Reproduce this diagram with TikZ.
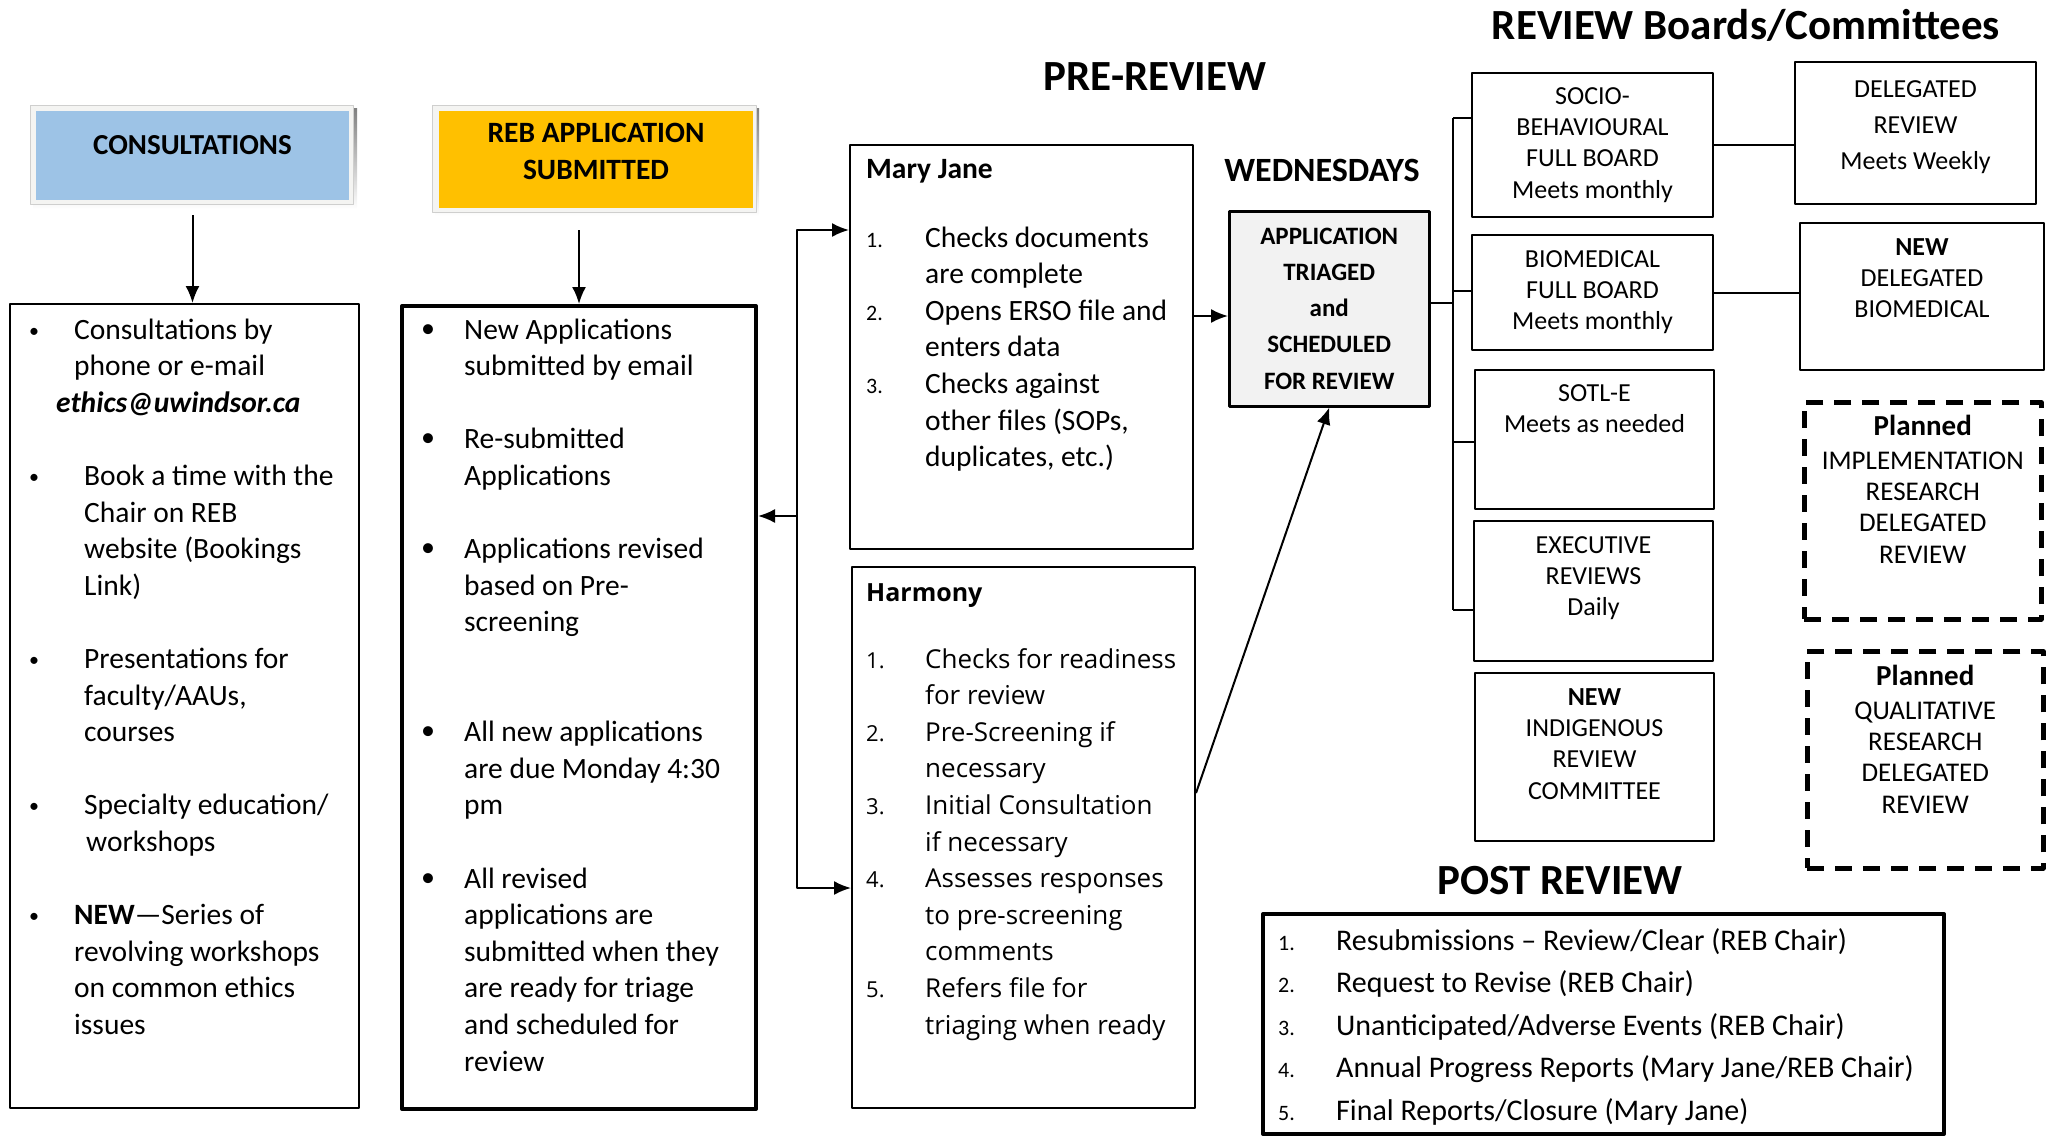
\documentclass[tikz,border=0pt]{standalone}
\usepackage{fontspec}
\setmainfont{Carlito}
\newfontfamily\harmfont{Open Sans}
\usetikzlibrary{arrows.meta}
\definecolor{consblue}{HTML}{9DC3E6}
\definecolor{rebgold}{HTML}{FFC000}
\definecolor{shade}{HTML}{CDC3A9}
\definecolor{rim}{HTML}{F4F4F2}
\definecolor{trigray}{HTML}{F2F2F2}
\newcommand\fs[2]{\fontsize{#1}{#2}\selectfont}
\newcommand\stack[1]{\begin{tabular}[t]{@{}c@{}}#1\end{tabular}}
\newcommand\lst[2]{\begin{tabular}[t]{@{}p{#1}@{}l@{}}#2\end{tabular}}
\newcommand\bul[1][20]{\raisebox{2pt}{\fs{#1}{#1}\textbullet}}
\newcommand\nr[1]{{\fs{22}{22}#1}}
\begin{document}
\begin{tikzpicture}[x=1pt, y=-1pt, line join=round]
\tikzset{
  box/.style={draw, line width=2pt, anchor=north west, inner sep=0pt},
  heavybox/.style={box, line width=4pt},
  planbox/.style={box, line width=4.5pt, dash pattern=on 17pt off 11pt},
  head/.style={anchor=base, inner sep=0pt, font=\fs{43}{50}\bfseries},
  body/.style={anchor=base west, inner sep=0pt, font=\fs{29.5}{36.6}},
  board/.style={anchor=base, inner sep=0pt, font=\fs{26}{31.4}},
  link/.style={line width=2pt},
  arr/.style={link, -{Latex[length=17pt, width=14pt]}},
}
\useasboundingbox (0,0) rectangle (2049,1135);

% headings
\node[head] (pre) at (1155,90) {PRE-REVIEW};
\node[head] (boards) at (1746,39) {REVIEW Boards/Committees};
\node[head, font=\fs{34}{40}\bfseries] (wed) at (1322,181) {WEDNESDAYS};
\node[head] (posthd) at (1560,894) {POST REVIEW};

% banners
\fill[shade] (33,108) rectangle (357,209);
\filldraw[fill=rim, draw=rim!85!black] (30,105) rectangle (353,204);
\node[box, draw=none, fill=consblue, minimum width=313pt, minimum height=89pt] (cons) at (35,110) {};
\node[head, font=\fs{29}{36}\bfseries] (constxt) at (cons.north |- 0,154) {CONSULTATIONS};
\fill[shade] (435,108) rectangle (759,216);
\filldraw[fill=rim, draw=rim!85!black] (432,105) rectangle (756,212);
\node[box, draw=none, fill=rebgold, minimum width=314pt, minimum height=97pt] (reb) at (438,110) {};
\node[head, font=\fs{29.5}{37}\bfseries] (rebtxt) at (reb.north |- 0,142) {\stack{REB APPLICATION\\SUBMITTED}};

% columns
\node[box, minimum width=349pt, minimum height=804pt] (cbox) at (9,303) {};
\node[heavybox, minimum width=354pt, minimum height=803pt] (abox) at (400,304) {};
\node[box, minimum width=343pt, minimum height=404pt] (mj) at (849,144) {};
\node[box, minimum width=343pt, minimum height=541pt] (harm) at (851,566) {};
\node[box, line width=2.5pt, fill=trigray, minimum width=200pt, minimum height=195pt] (tri) at (1228,210) {};

\node[body] (cboxtxt) at (29,339) {\lst{45pt}{
\bul & Consultations by\\
 & phone or e-mail\\
 & \hspace{-18pt}\textbf{\textit{ethics@uwindsor.ca}}\\
 & \\
\bul & \hspace{10pt}Book a time with the\\
 & \hspace{10pt}Chair on REB\\
 & \hspace{10pt}website (Bookings\\
 & \hspace{10pt}Link)\\
 & \\
\bul & \hspace{10pt}Presentations for\\
 & \hspace{10pt}faculty/AAUs,\\
 & \hspace{10pt}courses\\
 & \\
\bul & \hspace{10pt}Specialty education/\\
 & \hspace{12pt}workshops\\
 & \\
\bul & \textbf{NEW}—Series of\\
 & revolving workshops\\
 & on common ethics\\
 & issues}};
\node[body] (aboxtxt) at (421,339) {\lst{43pt}{
\bul[28] & New Applications\\
 & submitted by email\\
 & \\
\bul[28] & Re-submitted\\
 & Applications\\
 & \\
\bul[28] & Applications revised\\
 & based on Pre-\\
 & screening\\
 & \\
 & \\
\bul[28] & All new applications\\
 & are due Monday 4:30\\
 & pm\\
 & \\
\bul[28] & All revised\\
 & applications are\\
 & submitted when they\\
 & are ready for triage\\
 & and scheduled for\\
 & review}};

\node[body, font=\fs{29.5}{36.6}\bfseries] (mjname) at (866,178) {Mary Jane};
\node[body] (mjtxt) at (866,247) {\lst{59pt}{
\nr{1.} & Checks documents\\
 & are complete\\
\nr{2.} & Opens ERSO file and\\
 & enters data\\
\nr{3.} & Checks against\\
 & other files (SOPs,\\
 & duplicates, etc.)}};
\node[body, font=\harmfont\fs{25}{30}\bfseries] (harmname) at (866,601) {Harmony};
\node[body, font=\harmfont\fs{26}{36.6}] (harmtxt) at (866,668) {\lst{59pt}{
\nr{1.} & Checks for readiness\\
 & for review\\
\nr{2.} & Pre-Screening if\\
 & necessary\\
\nr{3.} & Initial Consultation\\
 & if necessary\\
\nr{4.} & Assesses responses\\
 & to pre-screening\\
 & comments\\
\nr{5.} & Refers file for\\
 & triaging when ready}};
\node[board, font=\fs{25}{36.3}\bfseries] (tritxt) at (tri.north |- 0,244) {\stack{APPLICATION\\TRIAGED\\and\\SCHEDULED\\FOR REVIEW}};

% boards
\node[box, minimum width=241pt, minimum height=144pt] (socio) at (1471,72) {};
\node[box, minimum width=241pt, minimum height=115pt] (biomed) at (1471,234) {};
\node[box, minimum width=239pt, minimum height=139pt] (sotl) at (1474,369) {};
\node[box, minimum width=239pt, minimum height=140pt] (exec) at (1473,520) {};
\node[box, minimum width=239pt, minimum height=168pt] (indig) at (1474,672) {};
\node[box, minimum width=241pt, minimum height=142pt] (deleg) at (1794,61) {};
\node[box, minimum width=244pt, minimum height=147pt] (newdel) at (1799,222) {};
\node[planbox, minimum width=237pt, minimum height=217pt] (impl) at (1802,400) {};
\node[planbox, minimum width=236pt, minimum height=217pt] (qual) at (1805,649) {};

\node[board] (sociotxt) at (socio.north |- 0,104) {\stack{SOCIO-\\BEHAVIOURAL\\FULL BOARD\\Meets monthly}};
\node[board] (biomedtxt) at (biomed.north |- 0,267) {\stack{BIOMEDICAL\\FULL BOARD\\Meets monthly}};
\node[board] (sotltxt) at (sotl.north |- 0,401) {\stack{SOTL-E\\Meets as needed}};
\node[board] (exectxt) at (exec.north |- 0,553) {\stack{EXECUTIVE\\REVIEWS\\Daily}};
\node[board] (indigtxt) at (indig.north |- 0,705) {\stack{\textbf{NEW}\\INDIGENOUS\\REVIEW\\COMMITTEE}};
\node[board, font=\fs{26}{36}] (delegtxt) at (deleg.north |- 0,97) {\stack{DELEGATED\\REVIEW\\Meets Weekly}};
\node[board] (newdeltxt) at (newdel.north |- 0,255) {\stack{\textbf{NEW}\\DELEGATED\\BIOMEDICAL}};
\node[board, font=\fs{27}{31.4}] (impltxt) at (impl.north |- 0,435) {\stack{{\fs{29}{31.4}\bfseries Planned}\\[2.6pt]IMPLEMENTATION\\RESEARCH\\DELEGATED\\REVIEW}};
\node[board, font=\fs{27}{31.4}] (qualtxt) at (qual.north |- 0,685) {\stack{{\fs{29}{31.4}\bfseries Planned}\\[2.6pt]QUALITATIVE\\RESEARCH\\DELEGATED\\REVIEW}};

% post review
\node[heavybox, minimum width=681pt, minimum height=220pt] (post) at (1261,912) {};
\node[body, font=\fs{30}{42.5}] (posttxt) at (1278,950) {\lst{58pt}{
\nr{1.} & Resubmissions – Review/Clear (REB Chair)\\
\nr{2.} & Request to Revise (REB Chair)\\
\nr{3.} & Unanticipated/Adverse Events (REB Chair)\\
\nr{4.} & Annual Progress Reports (Mary Jane/REB Chair)\\
\nr{5.} & Final Reports/Closure (Mary Jane)}};

% connectors
\draw[arr] (cons.south |- 0,215) -- (cons.south |- cbox.north);
\draw[arr] (abox.north |- 0,230) -- (abox.north);
\coordinate (fork) at (797,516);
\draw[arr] (fork) -- (fork -| abox.east);
\draw[arr] (fork) |- (mj.west |- 0,230);
\draw[arr] (fork) |- (harm.west |- 0,888);
\draw[arr] (mj.east |- 0,316) -- (tri.west |- 0,316);
\draw[arr] (harm.east |- 0,793) -- (tri.south);
\coordinate (hub) at (1453,303);
\draw[line width=1.6pt] (tri.east |- hub) -- (hub);
\draw[line width=1.6pt] (1453,118) -- (1453,610);
\foreach \n/\y in {socio/118, biomed/291, sotl/442, exec/610}
  \draw[line width=1.6pt] (1453,\y) -- (\n.west |- 0,\y);
\foreach \a/\b in {socio/deleg, biomed/newdel}
  \draw[link] (\a.east) -- (\a.east -| \b.west);
\end{tikzpicture}
\end{document}
